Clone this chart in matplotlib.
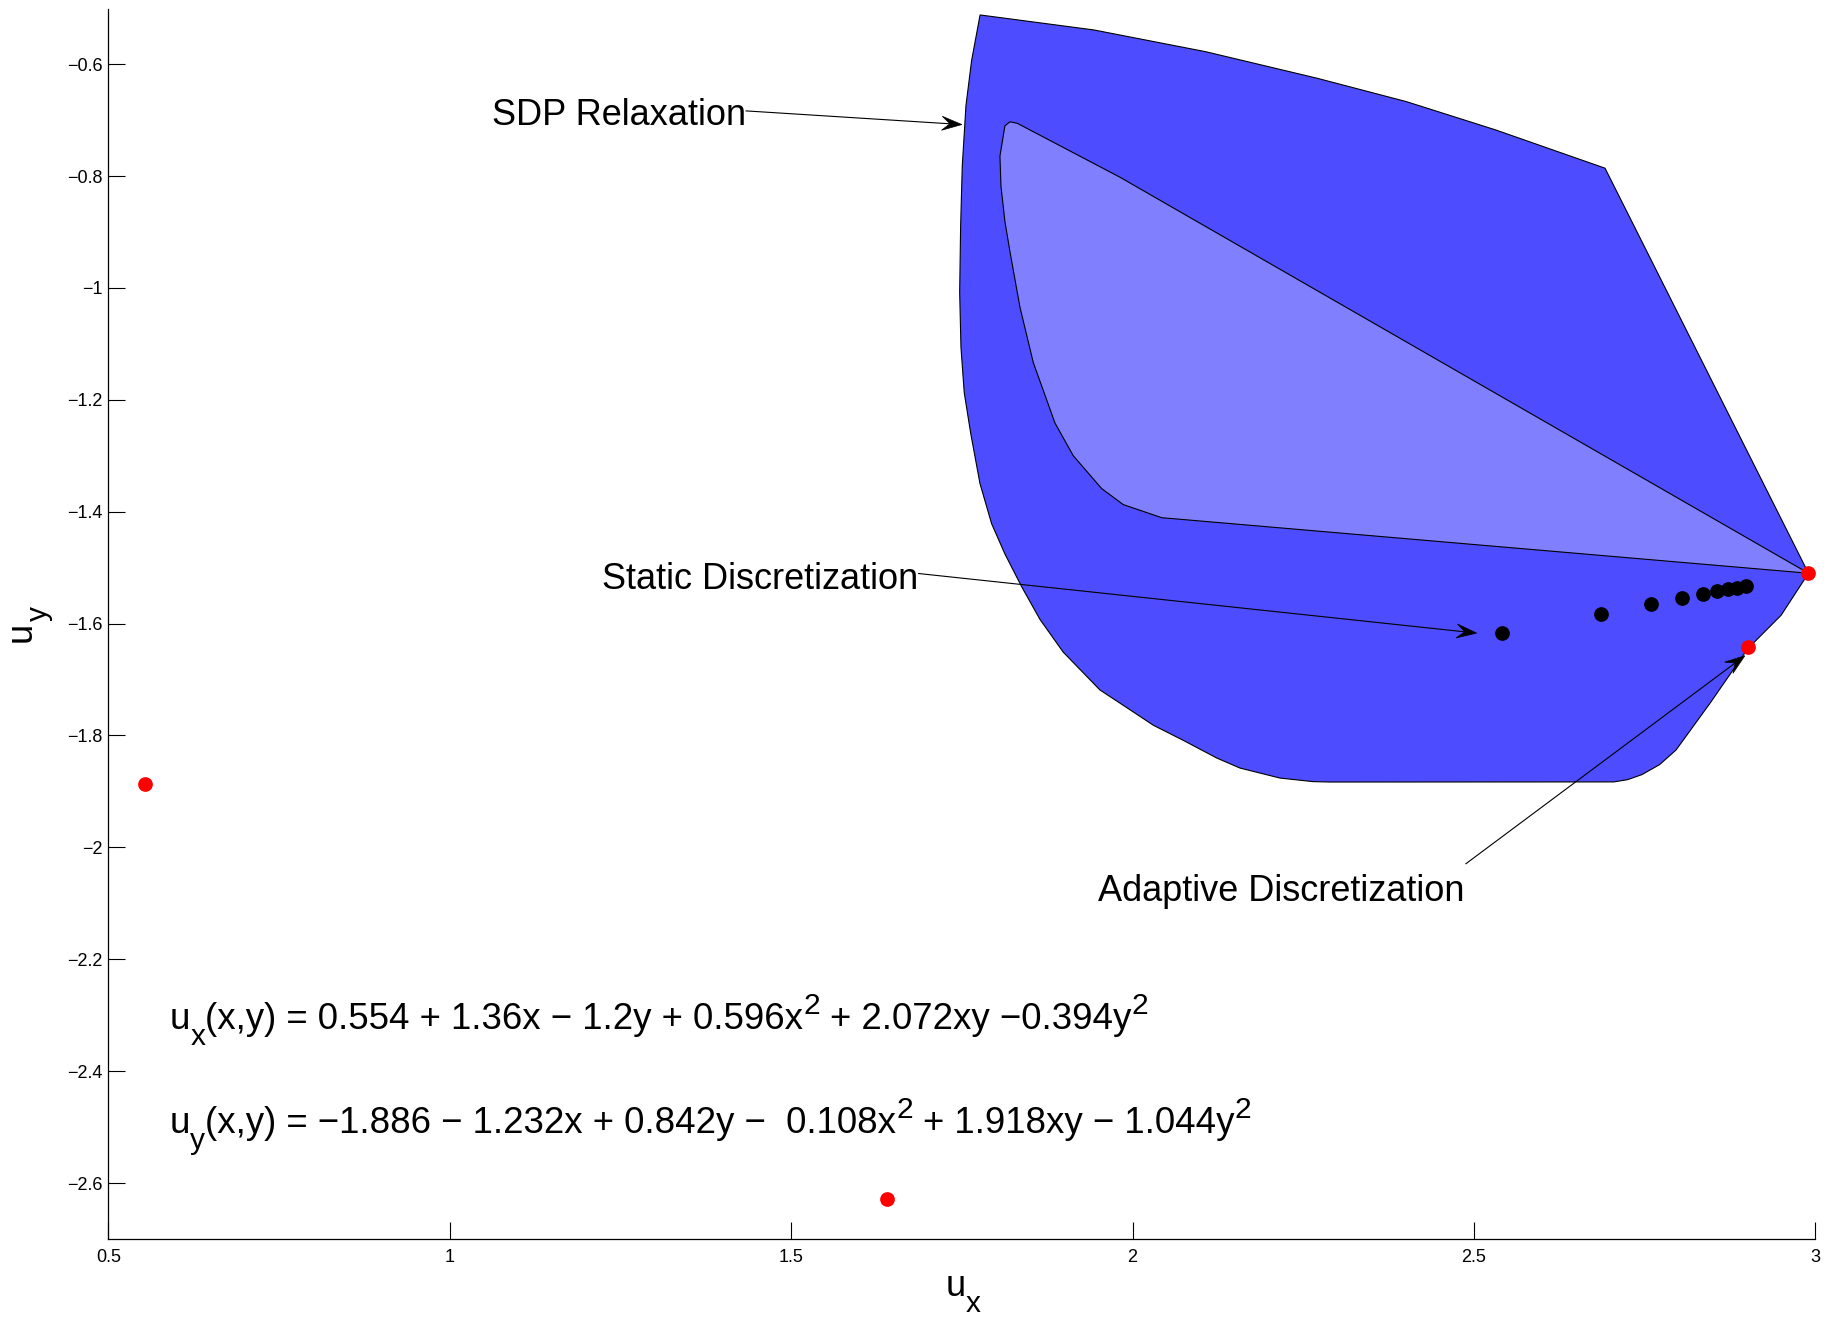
import math
import matplotlib
matplotlib.use("Agg")
import matplotlib.pyplot as plt
from matplotlib.patches import Polygon
from matplotlib.lines import Line2D
from matplotlib.transforms import IdentityTransform

plt.rcParams['font.family'] = ['Liberation Sans', 'DejaVu Sans']

# ---------------- data ----------------
# SDP relaxation region (outer boundary), clockwise from the top-left corner
outer_x = [1.7767, 1.9433, 2.1068, 2.2702, 2.4010, 2.5318, 2.6920,
           2.990, 2.950, 2.901, 2.846, 2.796, 2.772, 2.746, 2.725, 2.705,
           2.2891, 2.2646, 2.2159, 2.1573, 2.1232, 2.0743, 2.0303, 1.9914,
           1.9523, 1.8985, 1.8644, 1.8376, 1.8131, 1.7936, 1.7765, 1.7629,
           1.7535, 1.7487, 1.7468, 1.7482, 1.7506, 1.7560, 1.7643]
outer_y = [-0.5121, -0.5389, -0.5777, -0.6252, -0.6670, -0.7176, -0.7860,
           -1.510, -1.585, -1.645, -1.742, -1.826, -1.852, -1.870, -1.879, -1.883,
           -1.8832, -1.8825, -1.8761, -1.8582, -1.8402, -1.8087, -1.7816, -1.7501,
           -1.7187, -1.6511, -1.5925, -1.5341, -1.4756, -1.4215, -1.3495, -1.2594,
           -1.1874, -1.1064, -1.0074, -0.8904, -0.7823, -0.6743, -0.5934]

# inner region (light)
inner_x = [1.8312, 1.8205, 1.8131, 1.8058, 1.8073, 1.8131, 1.8205, 1.8351,
           1.8546, 1.8864, 1.9132, 1.9547, 1.9864, 2.0426, 2.990, 1.9815]
inner_y = [-0.7058, -0.7031, -0.7103, -0.7644, -0.8184, -0.8814, -0.9354, -1.0344,
           -1.1334, -1.2415, -1.300, -1.3586, -1.3873, -1.4107, -1.510, -0.8021]

# static discretization points (black)
static_x = [2.541, 2.686, 2.760, 2.805, 2.835, 2.856, 2.872, 2.886, 2.898]
static_y = [-1.617, -1.583, -1.565, -1.5545, -1.547, -1.542, -1.538, -1.5355, -1.533]

# red points
red_x = [0.554, 1.640, 2.990, 2.901]
red_y = [-1.886, -2.629, -1.510, -1.642]

xticks = [0.5, 1, 1.5, 2, 2.5, 3]
xtick_labels = ['0.5', '1', '1.5', '2', '2.5', '3']
yticks = [-2.6, -2.4, -2.2, -2.0, -1.8, -1.6, -1.4, -1.2, -1.0, -0.8, -0.6]
ytick_labels = ['\u22122.6', '\u22122.4', '\u22122.2', '\u22122', '\u22121.8', '\u22121.6',
                '\u22121.4', '\u22121.2', '\u22121', '\u22120.8', '\u22120.6']

# annotations: (label, text right x, text baseline y, arrow tail, arrow head)
annotations = [
    ('SDP Relaxation', 1.4338, -0.7087, (1.434, -0.6836), (1.750, -0.708)),
    ('Static Discretization', 1.6866, -1.5384, (1.6866, -1.5105), (2.504, -1.617)),
    ('Adaptive Discretization', 2.486, -2.0966, (2.4883, -2.0292), (2.8968, -1.6575)),
]

eq1_pieces = [('u', 'n'), ('x', 'sub'),
              ('(x,y) = 0.554 + 1.36x \u2212 1.2y + 0.596x', 'n'), ('2', 'sup'),
              (' + 2.072xy \u22120.394y', 'n'), ('2', 'sup')]
eq2_pieces = [('u', 'n'), ('y', 'sub'),
              ('(x,y) = \u22121.886 \u2212 1.232x + 0.842y \u2212  0.108x', 'n'), ('2', 'sup'),
              (' + 1.918xy \u2212 1.044y', 'n'), ('2', 'sup')]
xlabel_pieces = [('u', 'n'), ('x', 'sub')]
ylabel_pieces = [('u', 'n'), ('y', 'sub')]
eq1_pos = (0.590, -2.324)
eq2_pos = (0.590, -2.510)

# ---------------- figure ----------------
W, H = 1828, 1319
DPI = 100
fig = plt.figure(figsize=(W / DPI, H / DPI), dpi=DPI)
L, R, T, B = 108.4, 1815.3, 9.3, 1239
ax = fig.add_axes([L / W, (H - B) / H, (R - L) / W, (B - T) / H])

ax.add_patch(Polygon(list(zip(outer_x, outer_y)), closed=True,
                     facecolor='#4d4dff', edgecolor='black', lw=0.8, zorder=1))
ax.add_patch(Polygon(list(zip(inner_x, inner_y)), closed=True,
                     facecolor='#8080ff', edgecolor='black', lw=0.8, zorder=2))

ax.plot(static_x, static_y, 'o', color='black', markersize=10.6,
        markeredgewidth=0, zorder=4)
ax.plot(red_x, red_y, 'o', color='#ff0000', markersize=10.6,
        markeredgewidth=0, zorder=5)

ax.set_xlim(0.5, 3.0)
ax.set_ylim(-2.7, -0.502)
ax.set_xticks(xticks)
ax.set_xticklabels(xtick_labels)
ax.set_yticks(yticks)
ax.set_yticklabels(ytick_labels)
ax.tick_params(direction='in', length=12, width=0.8, labelsize=13, colors='black')
ax.tick_params(axis='x', pad=7)
ax.tick_params(axis='y', pad=4)
for s in ['top', 'right']:
    ax.spines[s].set_visible(False)
for s in ['left', 'bottom']:
    ax.spines[s].set_linewidth(0.9)

# arrows with a concave ("vback") head, built in pixel space
HEAD_L, HEAD_W, NOTCH = 20.0, 7.0, 0.6
for label, tx, ty, tail, head in annotations:
    ax.text(tx, ty, label, ha='right', va='baseline', fontsize=26, zorder=6)
    (x0, y0), (x1, y1) = ax.transData.transform([tail, head])
    d = math.hypot(x1 - x0, y1 - y0)
    ux, uy = (x1 - x0) / d, (y1 - y0) / d
    nx, ny = -uy, ux
    bx, by = x1 - NOTCH * HEAD_L * ux, y1 - NOTCH * HEAD_L * uy
    fig.add_artist(Line2D([x0, bx], [y0, by], color='black', lw=0.8,
                          transform=IdentityTransform()))
    head_pts = [(x1, y1),
                (x1 - HEAD_L * ux + HEAD_W * nx, y1 - HEAD_L * uy + HEAD_W * ny),
                (bx, by),
                (x1 - HEAD_L * ux - HEAD_W * nx, y1 - HEAD_L * uy - HEAD_W * ny)]
    fig.add_artist(Polygon(head_pts, closed=True, facecolor='black',
                           edgecolor='black', lw=0.5, transform=IdentityTransform()))

# rich text with large MATLAB-like sub/superscripts
renderer = fig.canvas.get_renderer()
SMALL = 21.5
SUB_DROP, SUP_RISE = 11.5, 10.5   # points


def text_w(s, size):
    t = fig.text(0, 0, s, fontsize=size, transform=IdentityTransform())
    w = t.get_window_extent(renderer).width
    t.remove()
    return w


def adv(s, size):
    return text_w('x' + s, size) - text_w('x', size)


def rich(xd, yd, pieces, main, rot=0.0, center=False):
    ca, sa = math.cos(math.radians(rot)), math.sin(math.radians(rot))
    sizes = [main if k == 'n' else SMALL for _, k in pieces]
    advs = [adv(s, z) for (s, _), z in zip(pieces, sizes)]
    pos = -sum(advs) / 2.0 if center else 0.0
    for (s, k), z, a in zip(pieces, sizes, advs):
        core = s.lstrip()
        lead = adv(s, z) - adv(core, z) if core != s else 0.0
        dy = 0.0
        if k == 'sub':
            dy = -SUB_DROP * DPI / 72.0
        elif k == 'sup':
            dy = SUP_RISE * DPI / 72.0
        p = pos + lead
        px = xd + p * ca - dy * sa
        py = yd + p * sa + dy * ca
        fig.text(px, py, core, fontsize=z, rotation=rot, rotation_mode='anchor',
                 ha='left', va='baseline', transform=IdentityTransform())
        pos += a


for pieces, pos in [(eq1_pieces, eq1_pos), (eq2_pieces, eq2_pos)]:
    xd, yd = ax.transData.transform(pos)
    rich(xd, yd, pieces, 26.4)

# axis labels
rich(963, H - 1296, xlabel_pieces, 26, rot=0, center=True)
rich(31, H - 624, ylabel_pieces, 26, rot=90, center=True)

fig.savefig('out.png', dpi=DPI, facecolor='white')
